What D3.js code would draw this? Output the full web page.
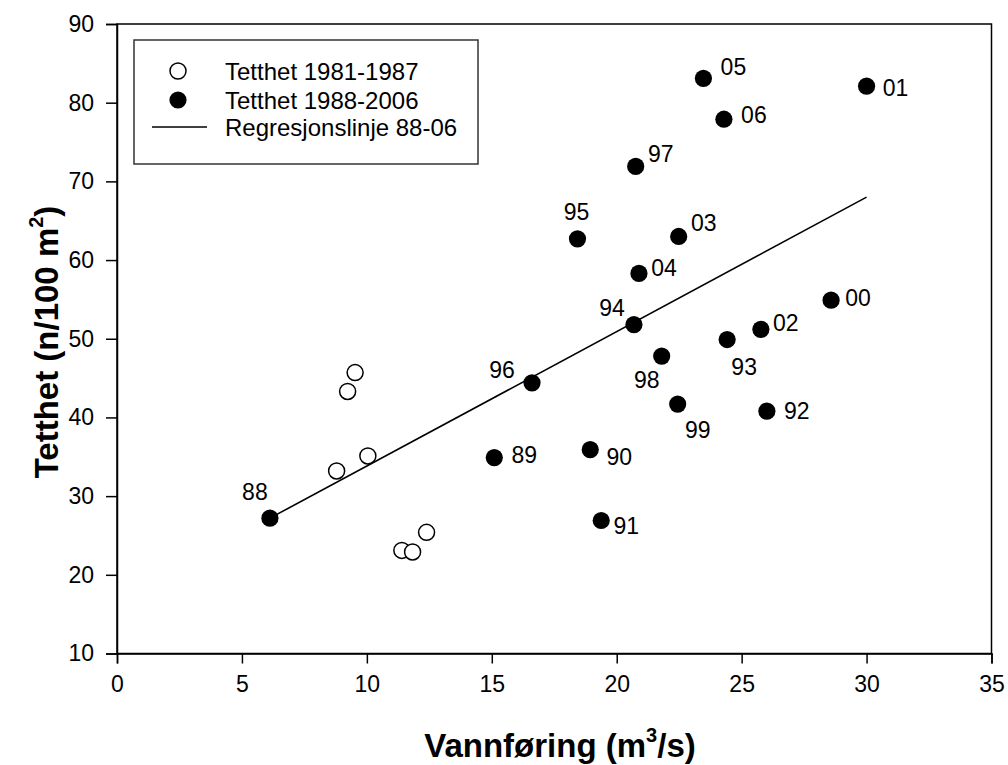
<!DOCTYPE html>
<html><head><meta charset="utf-8">
<script src="https://cdn.jsdelivr.net/npm/d3@7"></script>
<style>
body{margin:0;background:#fff;}
text{font-family:"Liberation Sans",Arial,sans-serif;fill:#000;}
</style></head>
<body>
<svg id="chart" width="1008" height="765"></svg>
<script>
// Open circles: Tetthet 1981-1987
const earlyX = [9.53, 9.23, 10.04, 8.79, 12.39, 11.40, 11.83];
const earlyY = [45.7, 43.3, 35.1, 33.2, 25.4, 23.1, 22.9];
// Filled circles: Tetthet 1988-2006
const lateYears = ["88","89","90","91","92","93","94","95","96","97","98","99","00","01","02","03","04","05","06"];
const lateX = [6.12, 15.10, 18.94, 19.38, 26.01, 24.42, 20.69, 18.43, 16.61, 20.76, 21.80, 22.44, 28.58, 30.00, 25.77, 22.48, 20.89, 23.47, 24.29];
const lateY = [27.2, 34.9, 35.9, 26.9, 40.8, 49.9, 51.8, 62.7, 44.4, 71.9, 47.8, 41.7, 54.9, 82.1, 51.2, 63.0, 58.3, 83.1, 77.9];
// Regression line 88-06 endpoints
const regX = [6.12, 30.0];
const regY = [27.2, 68.0];
const xTicks = [0,5,10,15,20,25,30,35];
const yTicks = [10,20,30,40,50,60,70,80,90];
const legendLabels = ["Tetthet 1981-1987","Tetthet 1988-2006","Regresjonslinje 88-06"];
// label placement (offset of label centre from point centre, px)
const labelOffsets = [[-15,-26],[30,-3],[29,7],[25,5],[30,0],[17,27],[-22,-17],[-1,-27],[-30,-13],[25,-12],[-15,24],[20,26],[27,-2],[29,2],[25,-6],[25,-13],[25,-5],[30,-11],[30,-4]];

const svg = d3.select("#chart");
const L = 117, R = 991.5, T = 24, B = 653.5;
const x = d3.scaleLinear().domain([0,35]).range([L,R]);
const y = d3.scaleLinear().domain([10,90]).range([B,T]);

const FS = 23;
// frame
svg.append("rect").attr("x",L).attr("y",T).attr("width",R-L).attr("height",B-T)
  .attr("fill","none").attr("stroke","#000").attr("stroke-width",1.5);

const xAxis = svg.append("g").attr("transform",`translate(0,${B})`)
  .call(d3.axisBottom(x).tickValues(xTicks).tickSize(10).tickPadding(12).tickFormat(d3.format("d")));
const yAxis = svg.append("g").attr("transform",`translate(${L},0)`)
  .call(d3.axisLeft(y).tickValues(yTicks).tickSize(11).tickPadding(12).tickFormat(d3.format("d")));
[xAxis,yAxis].forEach(a=>{
  a.select(".domain").attr("stroke","#000").attr("stroke-width",1.5);
  a.selectAll(".tick line").attr("stroke","#000").attr("stroke-width",1.5);
  a.selectAll(".tick text").attr("font-size",FS).attr("font-family","Liberation Sans, Arial, sans-serif").attr("fill","#000");
});

// regression line
svg.append("line")
  .attr("x1",x(regX[0])).attr("y1",y(regY[0]))
  .attr("x2",x(regX[1])).attr("y2",y(regY[1]))
  .attr("stroke","#000").attr("stroke-width",1.6);

// open circles
svg.append("g").selectAll("circle").data(earlyX).join("circle")
  .attr("cx",d=>x(d)).attr("cy",(d,i)=>y(earlyY[i])).attr("r",8)
  .attr("fill","#fff").attr("stroke","#000").attr("stroke-width",1.5);

// filled circles
svg.append("g").selectAll("circle").data(lateX).join("circle")
  .attr("cx",d=>x(d)).attr("cy",(d,i)=>y(lateY[i])).attr("r",8.6)
  .attr("fill","#000");

// labels
svg.append("g").selectAll("text").data(lateYears).join("text")
  .attr("x",(d,i)=>x(lateX[i])+labelOffsets[i][0])
  .attr("y",(d,i)=>y(lateY[i])+labelOffsets[i][1])
  .attr("text-anchor","middle").attr("dominant-baseline","central")
  .attr("font-size",FS).text(d=>d);

// legend
const lg = svg.append("g");
lg.append("rect").attr("x",134).attr("y",40).attr("width",344).attr("height",124)
  .attr("fill","#fff").attr("stroke","#333").attr("stroke-width",1.5);
const rowY = [71,100,127];
lg.append("circle").attr("cx",178).attr("cy",rowY[0]).attr("r",8).attr("fill","#fff").attr("stroke","#000").attr("stroke-width",1.5);
lg.append("circle").attr("cx",178).attr("cy",rowY[1]).attr("r",8.6).attr("fill","#000");
lg.append("line").attr("x1",152).attr("x2",207).attr("y1",rowY[2]).attr("y2",rowY[2]).attr("stroke","#000").attr("stroke-width",1.6);
lg.selectAll("text.leg").data(legendLabels).join("text").attr("class","leg")
  .attr("x",225).attr("y",(d,i)=>rowY[i]).attr("dominant-baseline","central")
  .attr("font-size",24).text(d=>d);

// axis titles
const xt = svg.append("text").attr("x",560).attr("y",757).attr("text-anchor","middle")
  .attr("font-size",33).attr("font-weight","bold");
xt.append("tspan").text("Vannføring (m");
xt.append("tspan").attr("font-size",20).attr("dy",-15).text("3");
xt.append("tspan").attr("dy",15).text("/s)");

const yt = svg.append("text").attr("transform",`translate(58,342) rotate(-90)`).attr("text-anchor","middle")
  .attr("font-size",33).attr("font-weight","bold");
yt.append("tspan").text("Tetthet (n/100 m");
yt.append("tspan").attr("font-size",20).attr("dy",-15).text("2");
yt.append("tspan").attr("dy",15).text(")");
</script>
</body></html>
